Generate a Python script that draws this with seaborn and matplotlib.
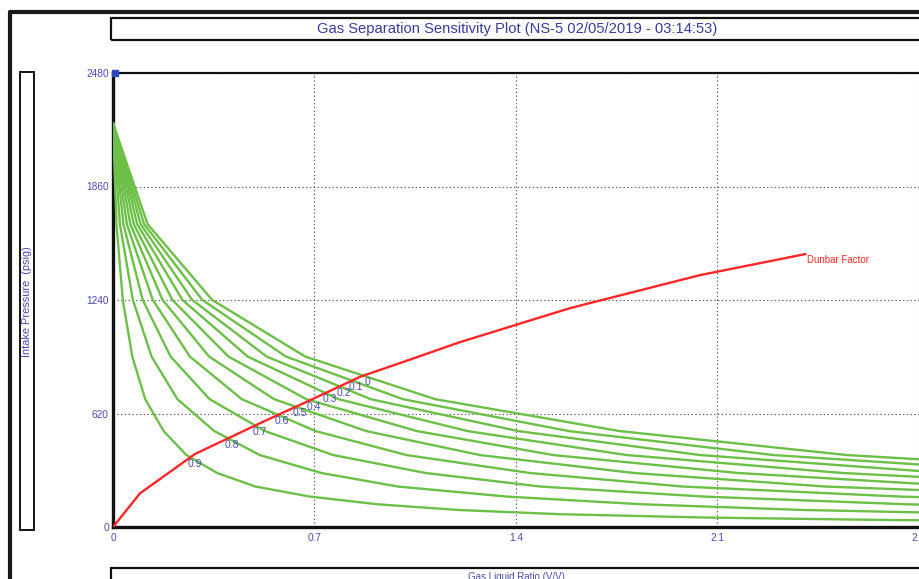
import numpy as np
import pandas as pd
import matplotlib
matplotlib.use("Agg")
import matplotlib.pyplot as plt
from matplotlib.patches import Rectangle
from matplotlib.lines import Line2D
import seaborn as sns

# Intake pressure levels (psig) at which each separation curve is evaluated
pressure = [2206, 1655, 1241, 931, 698, 524, 393, 295, 221, 166, 124, 93, 70, 52, 39, 29]

# Gas liquid ratio (V/V) at the pump for each gas separation efficiency
glr_e00 = [0, 0.120, 0.344, 0.668, 1.120, 1.760, 2.550, 3.620, 4.950, 6.850, 9.20, 12.00, 15.50, 20.50, 26.50, 33.0]
glr_e01 = [0, 0.108, 0.310, 0.601, 1.008, 1.584, 2.295, 3.258, 4.455, 6.165, 8.28, 10.80, 13.95, 18.45, 23.85, 29.7]
glr_e02 = [0, 0.096, 0.275, 0.534, 0.896, 1.408, 2.040, 2.896, 3.960, 5.480, 7.36, 9.60, 12.40, 16.40, 21.20, 26.4]
glr_e03 = [0, 0.084, 0.241, 0.468, 0.784, 1.232, 1.785, 2.534, 3.465, 4.795, 6.44, 8.40, 10.85, 14.35, 18.55, 23.1]
glr_e04 = [0, 0.072, 0.206, 0.401, 0.672, 1.056, 1.530, 2.172, 2.970, 4.110, 5.52, 7.20, 9.30, 12.30, 15.90, 19.8]
glr_e05 = [0, 0.060, 0.172, 0.334, 0.560, 0.880, 1.275, 1.810, 2.475, 3.425, 4.60, 6.00, 7.75, 10.25, 13.25, 16.5]
glr_e06 = [0, 0.048, 0.138, 0.267, 0.448, 0.704, 1.020, 1.448, 1.980, 2.740, 3.68, 4.80, 6.20, 8.20, 10.60, 13.2]
glr_e07 = [0, 0.036, 0.103, 0.200, 0.336, 0.528, 0.765, 1.086, 1.485, 2.055, 2.76, 3.60, 4.65, 6.15, 7.95, 9.9]
glr_e08 = [0, 0.024, 0.069, 0.134, 0.224, 0.352, 0.510, 0.724, 0.990, 1.370, 1.84, 2.40, 3.10, 4.10, 5.30, 6.6]
glr_e09 = [0, 0.012, 0.034, 0.067, 0.112, 0.176, 0.255, 0.362, 0.495, 0.685, 0.92, 1.20, 1.55, 2.05, 2.65, 3.3]

efficiency_labels = ["0", "0.1", "0.2", "0.3", "0.4", "0.5", "0.6", "0.7", "0.8", "0.9"]
curves = [glr_e00, glr_e01, glr_e02, glr_e03, glr_e04,
          glr_e05, glr_e06, glr_e07, glr_e08, glr_e09]

# Dunbar factor line
dunbar_glr = [0, 0.094, 0.285, 0.534, 0.673, 0.859, 1.000, 1.206, 1.589, 2.040, 2.406]
dunbar_p = [0, 184, 399, 584, 684, 821, 897, 1010, 1196, 1376, 1491]

x_ticks = [0, 0.7, 1.4, 2.1, 2.8, 3.5]
x_tick_labels = ["0", "0.7", "1.4", "2.1", "2.8", "3.5"]
y_ticks = [0, 620, 1240, 1860, 2480]
y_tick_labels = ["0", "620", "1240", "1860", "2480"]

title = "Gas Separation Sensitivity Plot (NS-5 02/05/2019 - 03:14:53)"
x_title = "Gas Liquid Ratio (V/V)"
y_title = "Intake Pressure  (psig)"

GREEN = "#6cbf47"
RED = "#ff2626"
BLUE = "#4a4aac"

sns.set_style("white")
plt.rcParams["font.family"] = ["Liberation Sans", "DejaVu Sans"]

W, H = 919, 579
fig = plt.figure(figsize=(W / 100, H / 100), dpi=100)


def fx(px):
    return px / W


def fy(py):
    return 1 - py / H


# long-form table of the sensitivity curves
rows = []
for lab, glr in zip(efficiency_labels, curves):
    for p, g in zip(pressure, glr):
        rows.append({"eff": lab, "glr": g, "p": p})
df = pd.DataFrame(rows)

px_per_unit = 287.8
ax = fig.add_axes([fx(113), fy(527), 3.5 * px_per_unit / W, (527 - 73) / H])
ax.set_xlim(0, 3.5)
ax.set_ylim(0, 2480)

sns.lineplot(data=df, x="glr", y="p", hue="eff", units="eff", estimator=None,
             sort=False, palette=[GREEN] * len(curves), linewidth=1.7,
             legend=False, ax=ax, zorder=3)
dun = pd.DataFrame({"glr": dunbar_glr, "p": dunbar_p})
sns.lineplot(data=dun, x="glr", y="p", sort=False, color=RED, linewidth=1.7,
             ax=ax, zorder=4)

# efficiency labels where each curve meets the Dunbar line
grid = np.linspace(0.001, max(dunbar_glr), 6000)
dun_on_grid = np.interp(grid, dunbar_glr, dunbar_p)
for lab, glr in zip(efficiency_labels, curves):
    curve_on_grid = np.interp(grid, glr, pressure)
    diff = curve_on_grid - dun_on_grid
    idx = np.where(np.diff(np.sign(diff)) != 0)[0]
    if len(idx):
        i = idx[0]
        ax.annotate(lab, (grid[i], dun_on_grid[i]), xytext=(3, -1),
                    textcoords="offset points", ha="center", va="top",
                    fontsize=7.5, color=BLUE, zorder=6)

ax.annotate("Dunbar Factor", (dunbar_glr[-1], dunbar_p[-1]), xytext=(1, -4),
            textcoords="offset points", ha="left", va="center",
            fontsize=7, color=RED)

# marker at the top of the pressure axis
ax.plot([0.008], [2480], marker="s", ms=4, color="#2b47c2", clip_on=False,
        zorder=7, linestyle="none")

ax.set_xticks(x_ticks, x_tick_labels)
ax.set_yticks(y_ticks, y_tick_labels)
ax.tick_params(axis="both", length=0, labelsize=7.3, labelcolor=BLUE)
ax.tick_params(axis="x", pad=4)
ax.tick_params(axis="y", pad=3)
ax.set_xlabel("")
ax.set_ylabel("")
ax.grid(True, color="#555555", linestyle=(0, (1.2, 2.2)), linewidth=0.8)
ax.set_axisbelow(True)
for side, lw in (("left", 2.4), ("bottom", 2.4), ("top", 1.6)):
    ax.spines[side].set_linewidth(lw)
    ax.spines[side].set_color("#111111")
ax.spines["right"].set_visible(False)

# outer frame
fig.add_artist(Line2D([fx(10), fx(10)], [fy(12), 0], color="#1a1a1a", lw=3.0,
                      transform=fig.transFigure))
fig.add_artist(Line2D([fx(10), 1.01], [fy(12), fy(12)], color="#1a1a1a", lw=3.0,
                      transform=fig.transFigure))

# title box
fig.add_artist(Rectangle((fx(111), fy(40)), 1.0, (40 - 18) / H,
                         transform=fig.transFigure, fill=False,
                         edgecolor="#111111", lw=1.6))
fig.text(fx(517), fy(29), title, ha="center", va="center", fontsize=10.6,
         color="#3a3aa0")

# pressure axis title box
fig.add_artist(Rectangle((fx(20), fy(530)), fx(14), (530 - 72) / H,
                         transform=fig.transFigure, fill=False,
                         edgecolor="#111111", lw=1.4))
fig.text(fx(27.5), fy(302), y_title, rotation=90, ha="center", va="center",
         fontsize=7.9, color=BLUE)

# ratio axis title box
fig.add_artist(Rectangle((fx(111), -0.05), 1.0, (579 - 568) / H + 0.05,
                         transform=fig.transFigure, fill=False,
                         edgecolor="#111111", lw=1.6))
fig.text(fx(516), fy(571.5), x_title, ha="center", va="top", fontsize=7,
         color=BLUE)

fig.savefig("out.png", dpi=100)
